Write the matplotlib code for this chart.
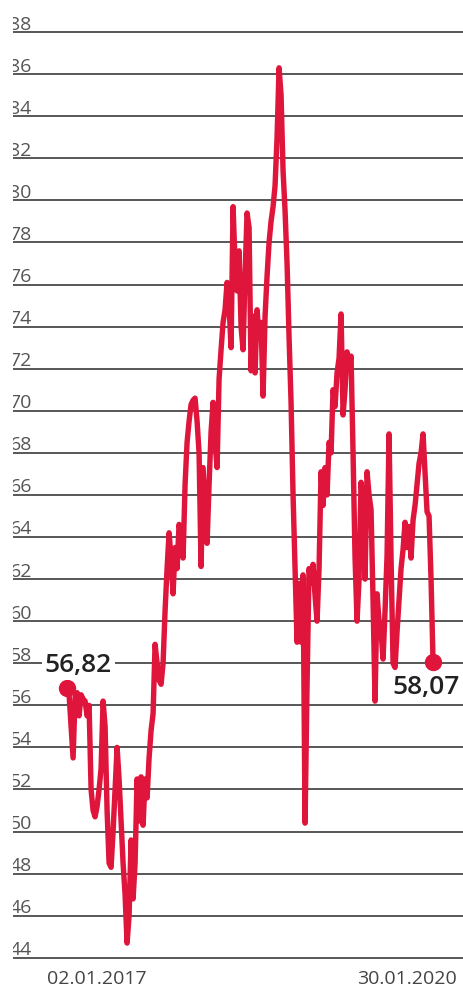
import numpy as np
import pandas as pd
import matplotlib
matplotlib.use('Agg')
import matplotlib.pyplot as plt

# price series (start 02.01.2017, end 30.01.2020)
START = '2017-01-02'
END = '2020-01-30'
prices = [
    56.82, 56.5, 55.0, 53.5, 56.4, 56.6, 55.5, 56.5, 56.3, 56.2,
    55.5, 56.0, 52.0, 51.0, 50.7, 51.2, 52.0, 53.0, 56.2, 55.0,
    51.0, 48.5, 48.3, 50.0, 52.0, 54.0, 52.5, 50.5, 48.5, 47.0,
    44.7, 46.0, 49.6, 46.8, 48.5, 52.5, 50.5, 52.6, 50.3, 52.5,
    51.6, 53.5, 54.8, 55.6, 58.9, 58.0, 57.2, 57.0, 58.0, 60.5,
    62.5, 64.2, 63.0, 61.3, 63.5, 62.5, 64.6, 64.0, 63.0, 66.5,
    68.5, 69.5, 70.3, 70.5, 70.6, 69.5, 68.0, 62.6, 67.3, 65.5,
    63.7, 66.5, 69.0, 70.4, 68.5, 67.3, 71.5, 72.9, 74.2, 74.8,
    76.1, 75.0, 73.0, 79.7, 77.0, 75.7, 77.6, 74.0, 72.9, 76.5,
    79.4, 78.7, 71.9, 74.5, 71.8, 74.8, 73.5, 74.2, 70.7, 74.5,
    76.4, 78.0, 79.0, 79.7, 80.7, 83.0, 86.3, 85.0, 81.4, 79.5,
    77.0, 73.5, 70.4, 66.0, 62.5, 59.0, 61.8, 59.0, 62.2, 50.4,
    57.0, 62.5, 61.8, 62.7, 61.2, 60.0, 62.5, 67.1, 65.5, 67.3,
    66.0, 68.5, 68.0, 71.0, 70.2, 71.8, 72.5, 74.6, 69.8, 71.0,
    72.8, 72.0, 72.6, 68.0, 63.0, 60.0, 62.0, 66.6, 65.5, 62.0,
    67.1, 66.0, 65.3, 61.0, 56.2, 61.3, 60.0, 59.5, 58.2, 60.5,
    63.1, 68.9, 63.0, 58.0, 57.8, 59.5, 61.0, 62.5, 63.4, 64.7,
    63.5, 64.5, 63.0, 64.8, 65.5, 66.5, 67.5, 68.0, 68.9, 67.0,
    65.2, 65.0, 62.0, 58.07,
]
dates = pd.date_range(START, END, periods=len(prices))

grid_values = list(range(44, 90, 2))
date_labels = ['02.01.2017', '30.01.2020']
first_label = '56,82'
last_label = '58,07'

RED = '#e0153c'
GRID = '#4a4a4a'
LABEL = '#555555'
FONT = 'Open Sans'

fig = plt.figure(figsize=(4.64, 9.89), dpi=100)
ax = fig.add_axes([0.028, 0.0273, 0.972, 0.9573])
ax.set_ylim(43.8, 88.8)
ax.set_xlim(pd.Timestamp('2016-07-20'), pd.Timestamp('2020-05-04'))
for s in ax.spines.values():
    s.set_visible(False)
ax.set_xticks([])
ax.set_yticks([])

for v in grid_values:
    ax.axhline(v, color=GRID, lw=1.3, zorder=1)
    ax.text(-0.008, v + 0.12, str(v), transform=ax.get_yaxis_transform(),
            ha='left', va='baseline', fontsize=14, color=LABEL,
            family=FONT, clip_on=True, zorder=2)

ax.plot(dates, prices, color=RED, lw=3.9, solid_joinstyle='round',
        solid_capstyle='round', zorder=3)
ax.plot([dates[0], dates[-1]], [prices[0], prices[-1]], 'o', color=RED,
        ms=11.5, zorder=4)

ax.annotate(first_label, xy=(dates[0], prices[0]), xytext=(-16, 16.5),
            textcoords='offset points', ha='left', va='center',
            fontsize=19, color='#222222', family=FONT, fontweight='semibold',
            zorder=5,
            bbox=dict(boxstyle='square,pad=0.1', fc='white', ec='none'))
ax.annotate(last_label, xy=(dates[-1], prices[-1]), xytext=(19.4, -18.7),
            textcoords='offset points', ha='right', va='center',
            fontsize=19, color='#222222', family=FONT, fontweight='semibold',
            zorder=5)

fig.text(47 / 464, 1 - 984 / 989, date_labels[0], ha='left', va='baseline',
         fontsize=14, color='#444444', family=FONT)
fig.text(457 / 464, 1 - 984 / 989, date_labels[1], ha='right', va='baseline',
         fontsize=14, color='#444444', family=FONT)

fig.savefig('out.png', dpi=100, facecolor='white')
